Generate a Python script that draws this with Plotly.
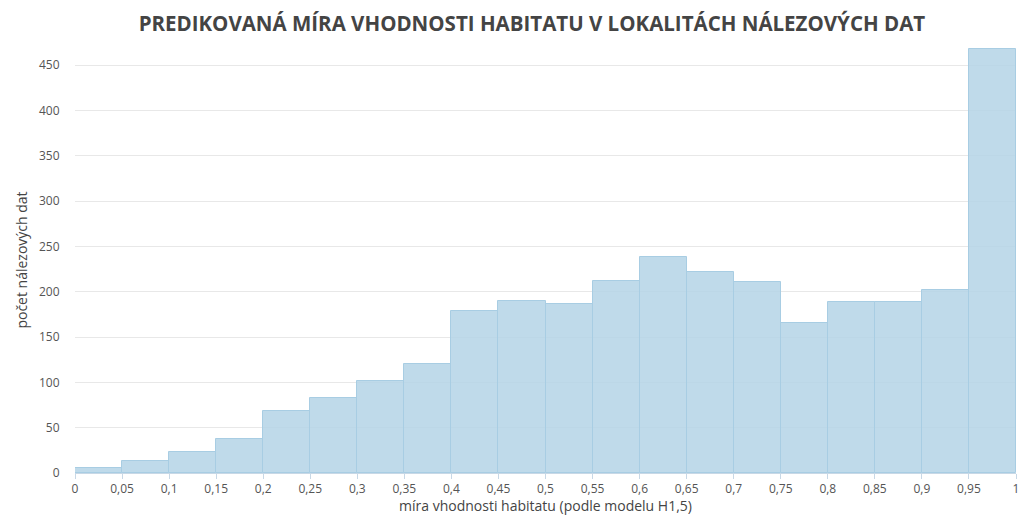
import plotly.graph_objects as go

bin_starts = [0.00, 0.05, 0.10, 0.15, 0.20, 0.25, 0.30, 0.35, 0.40, 0.45,
              0.50, 0.55, 0.60, 0.65, 0.70, 0.75, 0.80, 0.85, 0.90, 0.95]
counts = [5, 13, 23, 37, 68, 83, 101, 120, 179, 190,
          186, 212, 238, 222, 211, 165, 189, 189, 202, 468]
bin_width = 0.05

x_tick_vals = [0, 0.05, 0.1, 0.15, 0.2, 0.25, 0.3, 0.35, 0.4, 0.45, 0.5,
               0.55, 0.6, 0.65, 0.7, 0.75, 0.8, 0.85, 0.9, 0.95, 1]
x_tick_text = ["0", "0,05", "0,1", "0,15", "0,2", "0,25", "0,3", "0,35", "0,4", "0,45", "0,5",
               "0,55", "0,6", "0,65", "0,7", "0,75", "0,8", "0,85", "0,9", "0,95", "1"]
y_tick_vals = [0, 50, 100, 150, 200, 250, 300, 350, 400, 450]

title_text = "PREDIKOVANÁ MÍRA VHODNOSTI HABITATU V LOKALITÁCH NÁLEZOVÝCH DAT"
x_title = "míra vhodnosti habitatu (podle modelu H1,5)"
y_title = "počet nálezových dat"

fig = go.Figure()
fig.add_trace(go.Bar(
    x=bin_starts,
    y=counts,
    width=[bin_width] * len(bin_starts),
    offset=0,
    marker=dict(color="rgba(180,212,230,0.85)", line=dict(color="#a8cde3", width=1)),
    hoverinfo="x+y",
))

font_family = "Open Sans, DejaVu Sans, sans-serif"

fig.update_layout(
    width=1019, height=515,
    margin=dict(l=75, r=3, t=47, b=42, autoexpand=False),
    paper_bgcolor="white", plot_bgcolor="white",
    showlegend=False,
    bargap=0,
    font=dict(family=font_family, color="#555555"),
    title=dict(text="<b>" + title_text + "</b>", x=0.522, xanchor="center",
               y=0.953, yanchor="middle",
               font=dict(family=font_family, size=20.5, color="#444444")),
    xaxis=dict(
        range=[0, 1], tickvals=x_tick_vals, ticktext=x_tick_text,
        showgrid=False, zeroline=False, automargin=False,
        showline=True, linecolor="#c8d8e6", linewidth=1,
        ticks="outside", ticklen=5, tickcolor="#c8d8e6",
        ticklabeloverflow="allow",
        tickfont=dict(size=12, color="#555555"),
        title=dict(text=x_title, font=dict(size=14, color="#444444"), standoff=4),
    ),
    yaxis=dict(
        range=[0, 470], tickvals=y_tick_vals, automargin=False,
        showgrid=True, gridcolor="#e8e8e8", gridwidth=1,
        zeroline=False, showline=False,
        ticks="outside", ticklen=12, tickcolor="rgba(0,0,0,0)",
        tickfont=dict(size=12, color="#555555"),
        title=dict(text=y_title, font=dict(size=14, color="#444444"), standoff=8),
    ),
)

fig.write_html("out.html", config={"displayModeBar": False},
               post_script="document.body.style.margin='0';")
